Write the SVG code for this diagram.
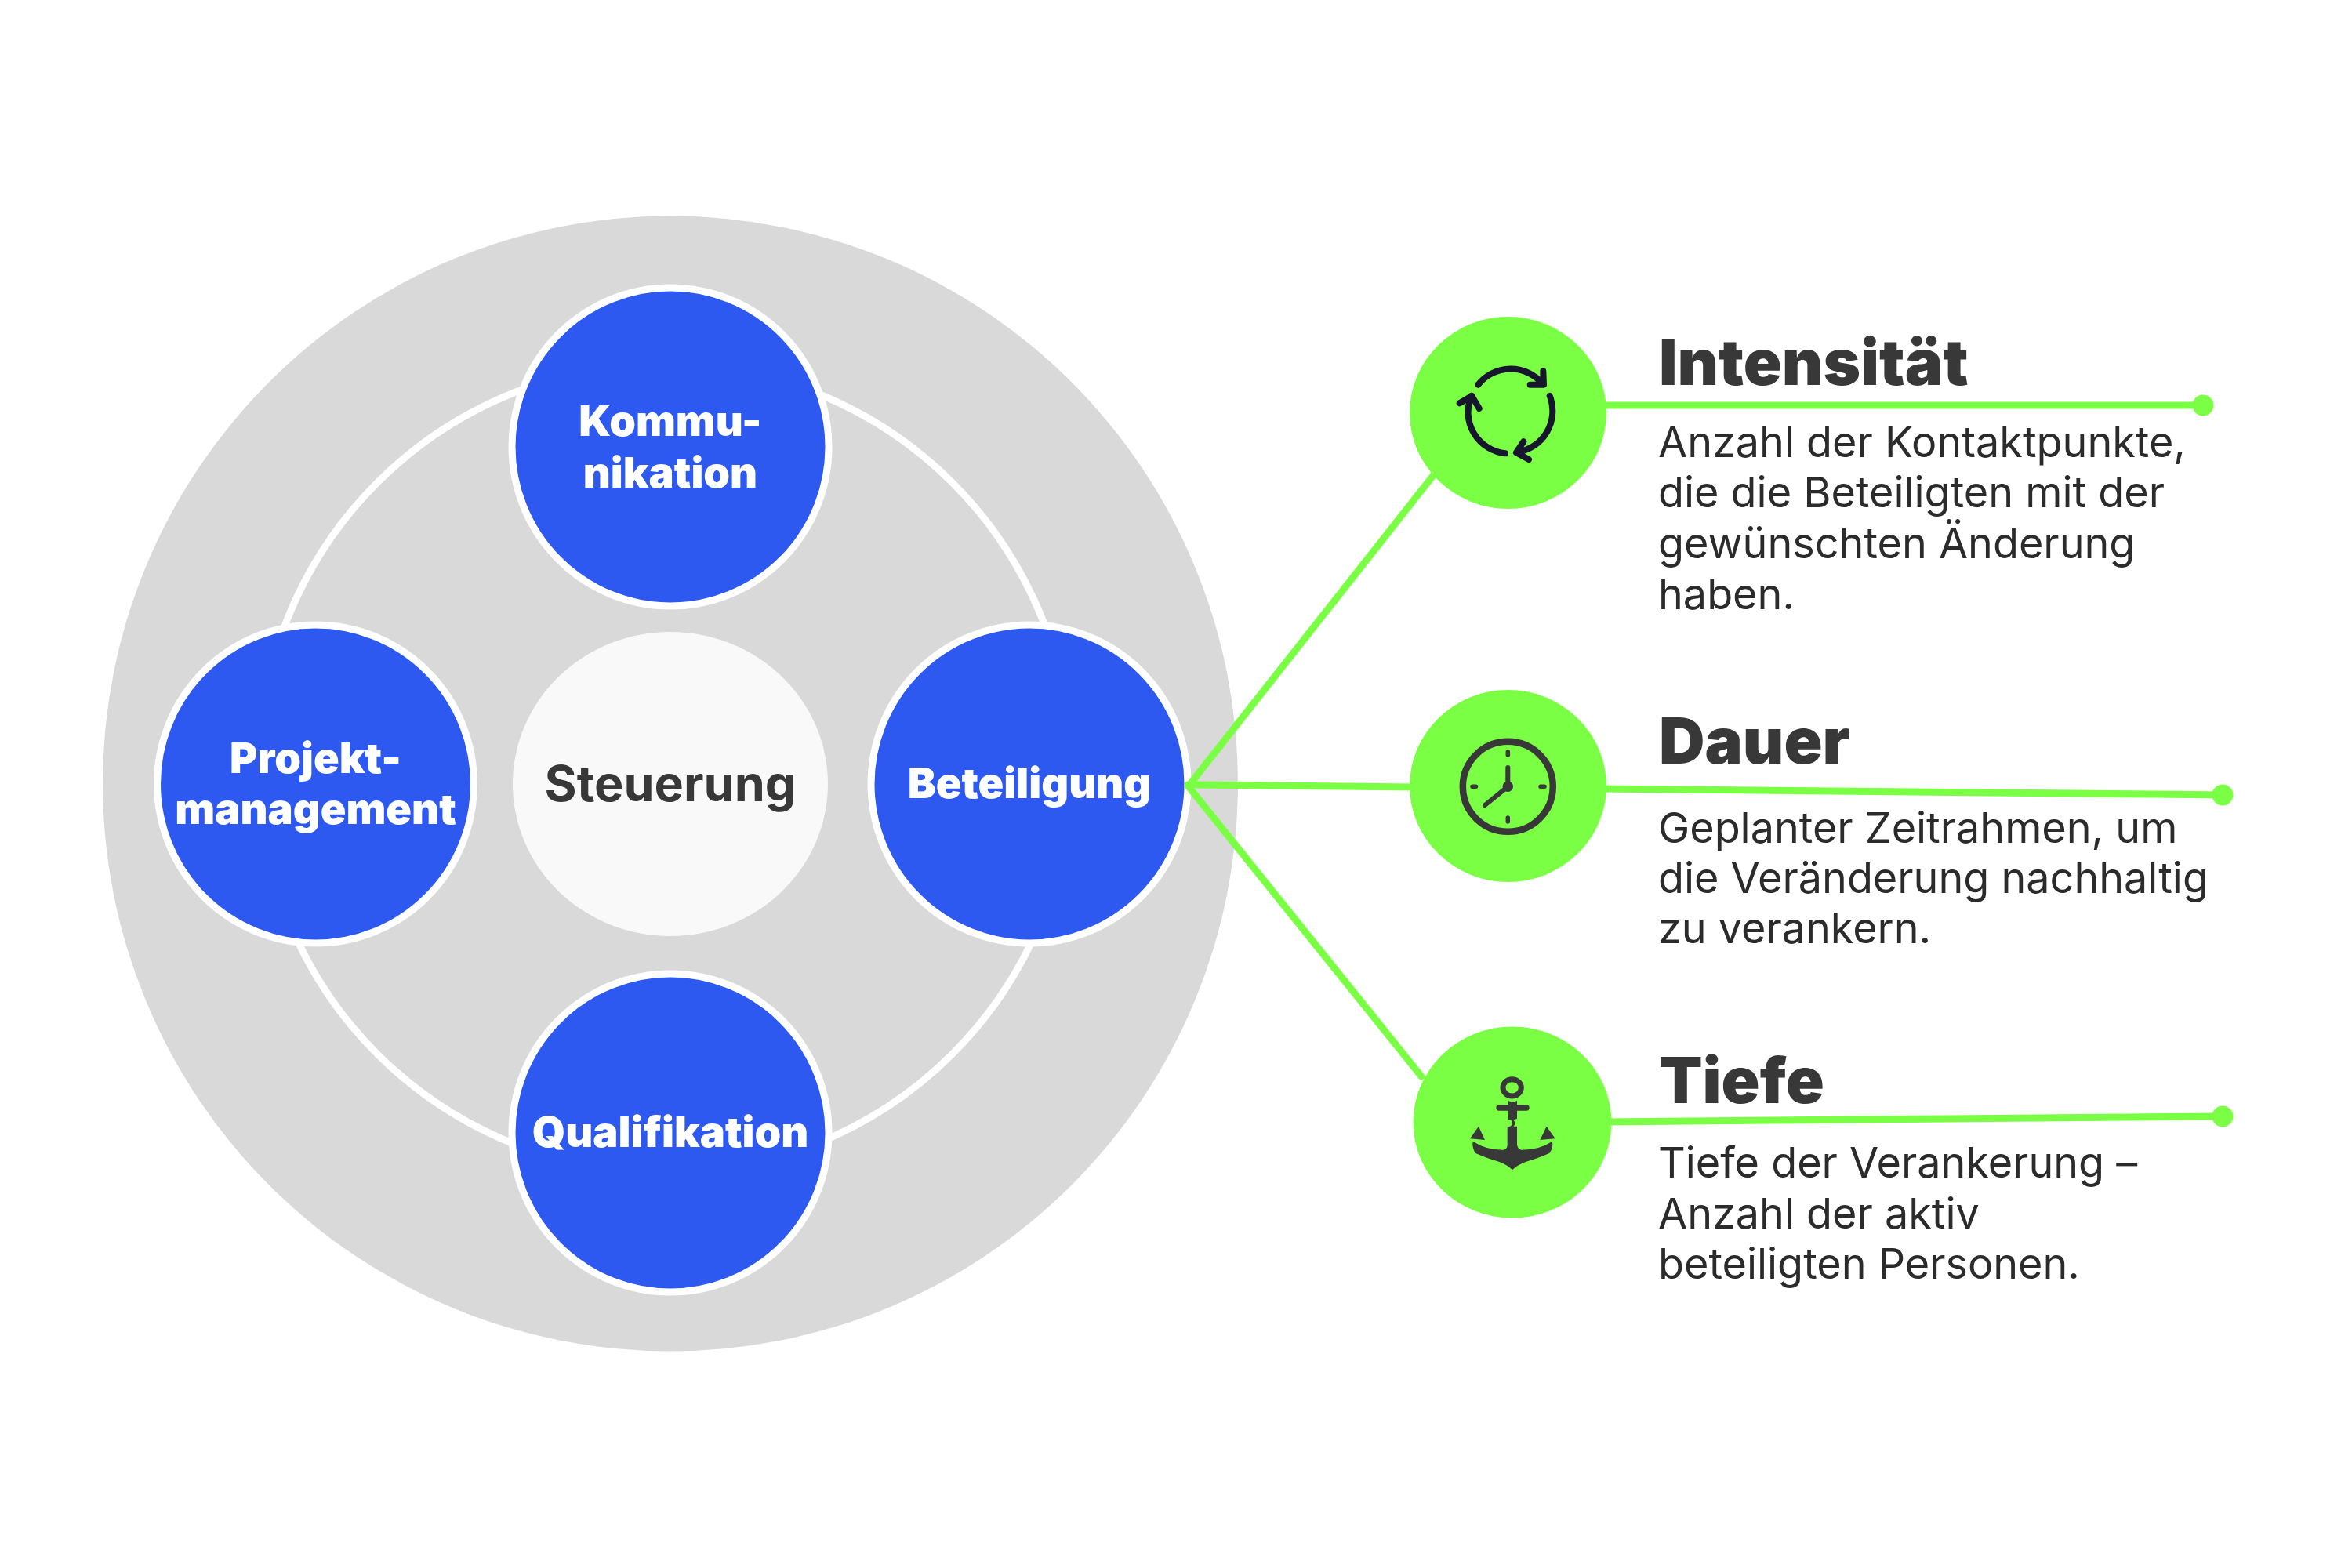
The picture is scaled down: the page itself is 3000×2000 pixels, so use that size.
<svg xmlns="http://www.w3.org/2000/svg" width="3000" height="2000" viewBox="0 0 3000 2000">
<style>
text{font-family:Inter,"Noto Sans","Liberation Sans",sans-serif}
.blue{fill:#2d59f1;stroke:#fff;stroke-width:9}
.lbl{fill:#fff;font-size:54px;font-weight:900;text-anchor:middle}
.head{fill:#383838;font-size:81px;font-weight:900}
.body{fill:#2b2b2b;font-size:53.900px;font-weight:400}
.conn{stroke:#7bff45;stroke-width:9;stroke-linecap:round;fill:none}
.dot{fill:#7bff45}
.green{fill:#7bff45}
.ico{fill:none;stroke:#16162c;stroke-width:8;stroke-linecap:round;stroke-linejoin:round}
.clk{fill:none;stroke:#383838;stroke-linecap:round}
.anc{fill:#383838}
</style>
<rect width="3000" height="2000" fill="#fff"/>
<g id="background"><circle cx="855" cy="999.500" r="724" fill="#d9d9d9"/><ellipse cx="848" cy="980" rx="518" ry="516" fill="none" stroke="#fff" stroke-width="9"/></g>
<g id="node-kommunikation"><ellipse class="blue" cx="855" cy="570" rx="202" ry="203"/><text class="lbl" x="855" y="556">Kommu-</text><text class="lbl" x="855" y="622">nikation</text></g>
<g id="node-projektmanagement"><ellipse class="blue" cx="402.500" cy="1000" rx="202" ry="203"/><text class="lbl" x="402.500" y="986">Projekt-</text><text class="lbl" x="402.500" y="1051">management</text></g>
<g id="node-steuerung"><ellipse cx="855" cy="1000" rx="201" ry="194" fill="#f9f9f9"/><text x="855" y="1022" font-size="62.800" font-weight="700" fill="#383838" text-anchor="middle">Steuerung</text></g>
<g id="node-beteiligung"><ellipse class="blue" cx="1313" cy="1000" rx="202" ry="203"/><text class="lbl" x="1313" y="1018">Beteiligung</text></g>
<g id="node-qualifikation"><ellipse class="blue" cx="855" cy="1445" rx="202" ry="203"/><text class="lbl" x="855" y="1463">Qualifikation</text></g>
<g id="connectors">
<line class="conn" x1="1518" y1="1000" x2="1830" y2="604"/>
<line class="conn" x1="1515" y1="1001" x2="1810" y2="1004"/>
<line class="conn" x1="1515" y1="1002" x2="1813" y2="1373"/>
<line class="conn" x1="2040" y1="517" x2="2810" y2="517"/>
<circle class="dot" cx="2810" cy="517" r="13.500"/>
<line class="conn" x1="2040" y1="1006" x2="2835" y2="1014"/>
<circle class="dot" cx="2835" cy="1014" r="13.500"/>
<line class="conn" x1="2045" y1="1431" x2="2835" y2="1424"/>
<circle class="dot" cx="2835" cy="1424" r="13.500"/>
</g>
<g id="node-intensitaet">
<ellipse class="green" cx="1923.500" cy="526.500" rx="125.500" ry="122.500"/>
<path class="ico" d="M1885.300 490.700A53 53 0 0 1 1968 490M1968.300 473.300L1969 490.700L1951.700 490.700"/>
<path class="ico" d="M1976.700 505A53 53 0 0 1 1935 576.700M1943.300 563.300L1934 577.300L1950 586"/>
<path class="ico" d="M1920 578.300A53 53 0 0 1 1876.700 505M1861.700 514.300L1877.300 505L1886.700 521"/>
<text class="head" x="2116" y="491">Intensität</text>
<text class="body" x="2115" y="582.500">Anzahl der Kontaktpunkte,</text>
<text class="body" x="2115" y="647">die die Beteiligten mit der</text>
<text class="body" x="2115" y="712">gewünschten Änderung</text>
<text class="body" x="2115" y="776.500">haben.</text>
</g>
<g id="node-dauer">
<ellipse class="green" cx="1923.500" cy="1002.500" rx="125.500" ry="122.500"/>
<circle class="clk" cx="1923.300" cy="1003.300" r="57.500" stroke-width="8.500"/>
<path class="clk" stroke-width="5.500" d="M1923.300 959V963M1923.300 1043V1048M1878 1003.300H1882.500M1965 1003.300H1970"/>
<path class="clk" stroke-width="6" d="M1923.300 979V1003.300L1894 1027"/>
<circle cx="1923.300" cy="1003.300" r="6.700" fill="#383838"/>
<text class="head" x="2116" y="974">Dauer</text>
<text class="body" x="2115" y="1074.500">Geplanter Zeitrahmen, um</text>
<text class="body" x="2115" y="1138.500">die Veränderung nachhaltig</text>
<text class="body" x="2115" y="1203">zu verankern.</text>
</g>
<g id="node-tiefe">
<ellipse class="green" cx="1929" cy="1431.500" rx="126.500" ry="122"/>
<g transform="translate(1780 1300) scale(.33333)">
<ellipse cx="446" cy="262" rx="35" ry="32" fill="none" stroke="#383838" stroke-width="21"/>
<rect class="anc" x="385" y="328" width="127" height="22" rx="11"/>
<path class="anc" d="M431 312L448 318L465 312V380L452 386Q462 398 452 410H465V480Q468 497 482 500Q550 500 600 467Q604 490 590 512Q550 530 500 545Q465 558 447 577Q430 558 395 545Q345 530 305 512Q292 490 296 467Q345 500 412 500Q428 497 428 480V410Q445 414 447 397Q445 384 431 384Z"/>
<path class="anc" d="M318 410L285 457L342 462ZM578 410L553 462L611 457Z"/>
</g>
<text class="head" x="2116" y="1407">Tiefe</text>
<text class="body" x="2115" y="1501.500">Tiefe der Verankerung –</text>
<text class="body" x="2115" y="1566.500">Anzahl der aktiv</text>
<text class="body" x="2115" y="1631">beteiligten Personen.</text>
</g>
</svg>
